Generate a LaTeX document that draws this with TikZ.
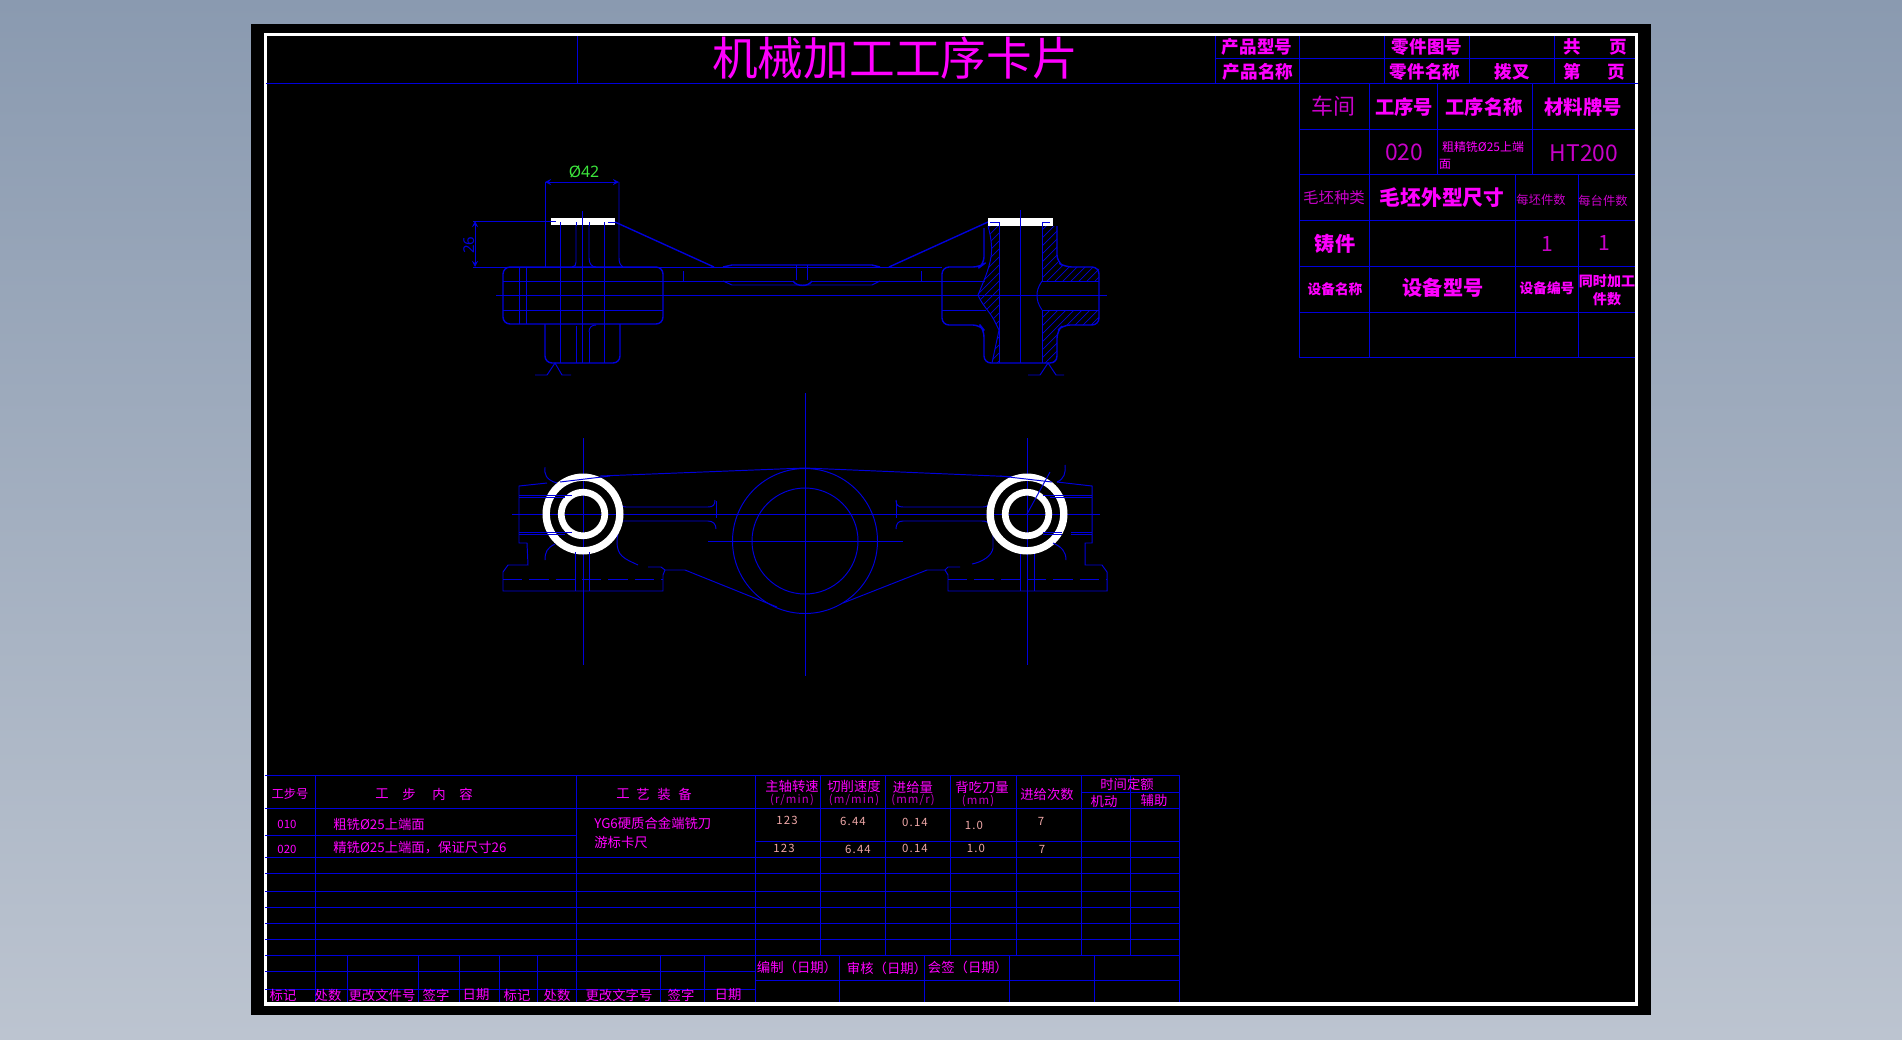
\documentclass[tikz,border=0pt]{standalone}
\usepackage{fontspec}
\setmainfont{Noto Sans}
\newfontfamily\cjk{Noto Sans CJK SC}
\newfontfamily\cjkw[LetterSpace=10]{Noto Sans CJK SC}
\definecolor{cadblue}{HTML}{0000DC}
\definecolor{cadmag}{HTML}{FF00FF}
\definecolor{caddim}{HTML}{C800C8}
\definecolor{cadpink}{HTML}{F0A8A8}
\definecolor{cadgreen}{HTML}{3CE63C}
\definecolor{skytop}{HTML}{8A9AB0}
\definecolor{skybot}{HTML}{BCC4D0}
\newcommand{\fs}[1]{\fontsize{#1}{#1}\selectfont}
\tikzset{
  line/.style={cadblue, line width=0.55pt},
  thickline/.style={cadblue, line width=0.8pt},
  hatch/.style={cadblue, line width=0.4pt},
  ring/.style={white, line width=4.1pt},
  dashline/.style={cadblue, line width=0.55pt, dash pattern=on 11pt off 4pt},
  lbl/.style={text=cadmag, inner sep=0pt, font=\cjk\fs{7.6}},
  lblb/.style={text=cadmag, inner sep=0pt, font=\cjk\bfseries\fs{11}},
  lbls/.style={text=caddim, inner sep=0pt, font=\cjk\fs{7}},
  unit/.style={text=caddim, inner sep=0pt, font=\cjkw\fs{6.5}},
  val/.style={text=cadpink, inner sep=0pt, font=\cjkw\fs{6.5}}
}
\begin{document}
\begin{tikzpicture}[x=0.02cm, y=-0.02cm]
\useasboundingbox (0,0) rectangle (1902,1039);

% Nen va khung
\shade[top color=skytop, bottom color=skybot] (0,0) rectangle (1902,1039);
\fill[black] (251,24) rectangle (1651,1015);
\draw[white, line width=2pt] (265.5,34.5) rectangle (1636.5,1004);

% Khung tieu de
\draw[line] (266,83) -- (1638,83);
\draw[line] (577,36) -- (577,83);
\draw[line] (1215,58) -- (1635,58);
\foreach \x in {1215,1299,1384,1469,1554} \draw[line] (\x,36) -- (\x,83);

% Bang ben phai
\foreach \y in {129,174,220,266,312,357} \draw[line] (1299,\y) -- (1635,\y);
\draw[line] (1299,83) -- (1299,357);
\draw[line] (1369,83) -- (1369,357);
\draw[line] (1437,83) -- (1437,174);
\draw[line] (1532,83) -- (1532,174);
\draw[line] (1515,174) -- (1515,357);
\draw[line] (1578,174) -- (1578,357);

% Bang duoi
\foreach \y in {775,808,857,873,891,907,923,939,955} \draw[line] (265,\y) -- (1179,\y);
\draw[line] (265,835) -- (576,835);
\draw[line] (755,841) -- (1179,841);
\draw[line] (1081,792) -- (1179,792);
\draw[line] (265,971) -- (755,971);
\draw[line] (265,989) -- (755,989);
\draw[line] (755,980) -- (1179,980);
\foreach \x in {315,576,755} \draw[line] (\x,775) -- (\x,1002);
\foreach \x in {820,885,950,1016,1081,1130} \draw[line] (\x,775) -- (\x,955);
\draw[line] (1179,775) -- (1179,1002);
\foreach \x in {347,418,459,499,537,660,704,839,924,1009,1094} \draw[line] (\x,955) -- (\x,1002);

% Hinh chieu dung - tam ben trai
\draw[thickline, rounded corners=4pt] (503,267) rectangle (663,324);
\draw[line] (519.5,267) -- (519.5,324);
\draw[line] (526,267) -- (526,324);
\draw[line] (503,281) -- (723,281);
\draw[line] (503,310) -- (663,310);
\draw[line] (545,182) -- (545,267);
\draw[line] (619,182) -- (619,258) .. controls (619,262) and (620,265) .. (623,267);
\draw[line] (560,222) -- (560,363);
\draw[line] (604,222) -- (604,363);
\draw[line] (582,211) -- (582,363);
\draw[line] (576,222) -- (576,262) .. controls (576,265) and (575,267) .. (572,267);
\draw[line] (589,222) -- (589,258) .. controls (589,264) and (592,267) .. (596,267);
\draw[line] (576,326) -- (576,363);
\draw[line] (589,332) .. controls (589,327) and (592,325) .. (596,325);
\draw[line] (589,332) -- (589,363);
\draw[thickline, rounded corners=4pt] (545,324) -- (545,363) -- (620,363) -- (620,324);
\draw[line] (535,375) -- (547,375) -- (555,363) -- (562,375) -- (571,375);

% Hinh chieu dung - gan giua
\draw[line] (473,267) -- (942,267);
\draw[line] (496,295) -- (1107,295);
\draw[thickline] (615,222) -- (714,267);
\draw[thickline] (889,267) -- (988,222);
\draw[thickline] (723,267) -- (732,265) -- (872,265) -- (880,267);
\draw[line] (723,281) -- (732,285) -- (872,285) -- (880,281);
\draw[line] (723,281) -- (793,281);
\draw[line] (812,281) -- (985,281);
\draw[line] (796,265) -- (796,280);
\draw[line] (807,265) -- (807,280);
\draw[thickline] (793,281) .. controls (797,287) and (808,287) .. (812,281);
\draw[line] (683,271) -- (683,281);
\draw[line] (921,271) -- (921,281);

% Hinh chieu dung - tam ben phai
\begin{scope}
\clip (988,226) .. controls (992,240) and (992,250) .. (991,257) .. controls (989,270) and (982,285) .. (978,295) .. controls (982,305) and (990,312) .. (994,320) -- (999,330) -- (992,363) -- (999,363) -- (999,226) -- cycle;
\foreach \i in {0,8,...,248} \draw[hatch] (820+\i,380) -- (1020+\i,180);
\end{scope}
\begin{scope}
\clip (1042,226) -- (1057,226) -- (1057,258) .. controls (1057,263) and (1060,267) .. (1065,267) -- (1099,267) -- (1099,281) -- (1042,281) -- cycle;
\foreach \i in {0,8,...,248} \draw[hatch] (820+\i,380) -- (1020+\i,180);
\end{scope}
\begin{scope}
\clip (1042,310) -- (1099,310) -- (1099,325) -- (1063,325) -- (1057,331) -- (1057,363) -- (1042,363) -- cycle;
\foreach \i in {0,8,...,248} \draw[hatch] (820+\i,380) -- (1020+\i,180);
\end{scope}
\draw[thickline, rounded corners=4pt] (984,228) -- (984,264) -- (980,267) -- (942,267) -- (942,325) -- (980,325) -- (984,330) -- (984,363) -- (1057,363) -- (1057,331) -- (1063,325) -- (1099,325) -- (1099,267) -- (1065,267) -- (1057,262) -- (1057,226);
\draw[line] (988,226) .. controls (992,240) and (992,250) .. (991,257) .. controls (989,270) and (982,285) .. (978,295) .. controls (982,305) and (990,312) .. (994,320) -- (999,330) -- (992,363);
\draw[line] (999,222) -- (999,363);
\draw[line] (1042,222) -- (1042,281);
\draw[line] (1042,281) .. controls (1038,287) and (1037,291) .. (1037,295) .. controls (1037,300) and (1038,304) .. (1042,310);
\draw[line] (1042,310) -- (1042,363);
\draw[line] (1020,210) -- (1020,363);
\draw[line] (1042,281) -- (1099,281);
\draw[line] (1042,310) -- (1099,310);
\draw[line] (942,310) -- (986,310);
\draw[line] (1028,375) -- (1040,375) -- (1048,363) -- (1056,375) -- (1064,375);

% Mat gia cong mau trang
\fill[white] (551,218) rectangle (615,225);
\fill[white] (988,218) rectangle (1053,226);
\draw[line] (582,211) -- (582,225);
\draw[line] (1020,210) -- (1020,226);
\foreach \x in {560,576,589,604,999,1042} \draw[line] (\x,222) -- (\x,226);
\draw[line] (608,222) -- (615,222);
\draw[line] (990,222) -- (999,222);
\draw[line] (1042,222) -- (1050,222);

% Kich thuoc
\draw[line,<->,>=stealth] (545,182) -- (619,182);
\draw[line] (473,221) -- (556,221);
\draw[line,<->,>=stealth] (475,221) -- (475,267);
\node (phi42) at (584,172) [text=cadgreen, inner sep=0pt, font=\fs{9}] {Ø42};
\node (dim26) at (469,245) [rotate=90, text=cadblue, inner sep=0pt, font=\fs{8.5}] {26};

% Hinh chieu bang - duong tam
\draw[line] (512,514) -- (1100,514);
\draw[line] (708,541) -- (903,541);
\draw[line] (805,393) -- (805,676);
\draw[line] (583,438) -- (583,665);
\draw[line] (1027,438) -- (1027,665);

% Vong tron giua
\draw[line] (805,541) circle (72.5);
\draw[line] (805,541) circle (53);

% Duong bao hinh chieu bang
\draw[line] (600,476) -- (805,468) -- (1020,477);
\draw[line] (547,483) -- (519,486) -- (519,543) -- (527,543) -- (528,565) -- (508,565) -- (503,572) -- (503,591) -- (663,591) -- (663,575) -- (665,570) -- (685,570) -- (777,607);
\draw[line] (1057,482) -- (1092,486) -- (1092,543) -- (1085,543) -- (1085,565) -- (1102,565) -- (1107,572) -- (1107,591) -- (948,591) -- (948,575) -- (945,570) -- (927,570) -- (843,603);
\draw[dashline] (503,579) -- (663,579);
\draw[dashline] (948,579) -- (1107,579);
\draw[line] (575,553) -- (575,591);
\draw[line] (589,553) -- (589,591);
\draw[line] (1020,553) -- (1020,591);
\draw[line] (1034,553) -- (1034,591);

% Canh tay
\draw[line] (617,500) .. controls (620,505) and (622,507) .. (626,507) -- (708,507) .. controls (713,507) and (715,505) .. (715,500);
\draw[line] (622,521) .. controls (625,521) and (627,521) .. (630,521) -- (708,521) .. controls (713,521) and (716,524) .. (716,529);
\draw[line] (716,501) -- (716,518);
\draw[line] (992,500) .. controls (989,505) and (987,507) .. (983,507) -- (903,507) .. controls (898,507) and (896,505) .. (896,500);
\draw[line] (990,525) .. controls (988,522) and (986,521) .. (982,521) -- (903,521) .. controls (898,521) and (896,524) .. (896,529);
\draw[line] (896,501) -- (896,518);
\draw[line] (621,524) .. controls (616,535) and (615,550) .. (622,556) .. controls (626,560) and (632,562) .. (638,565);
\draw[line] (648,567) -- (661,567) -- (665,570);
\draw[line] (993,528) -- (993,548) .. controls (992,556) and (982,562) .. (972,564);
\draw[line] (960,567) -- (948,567) -- (945,570);

% Vong trang
\draw[ring, line width=4.2pt] (583,514) circle (36.8);
\draw[ring, line width=3.8pt] (583,514) circle (21.8);
\draw[ring, line width=4.2pt] (1027,514) circle (36.8);
\draw[ring, line width=3.8pt] (1027,514) circle (21.8);

% Chi tiet de len vong trang
\draw[line] (519,495) -- (572,495);
\draw[line] (519,497.5) -- (565,497.5);
\draw[line] (519,532) -- (572,532);
\draw[line] (519,534.5) -- (565,534.5);
\draw[line] (1043,495) -- (1092,495);
\draw[line] (1050,497.5) -- (1092,497.5);
\draw[line] (1043,532) -- (1062,532);
\draw[line] (1071,532) -- (1092,532);
\draw[line] (1043,534.5) -- (1062,534.5);
\draw[line] (1071,534.5) -- (1092,534.5);
\draw[line] (545,467) .. controls (544,474) and (546,480) .. (557,483);
\draw[line] (545,560) .. controls (545,552) and (547,548) .. (555,544);
\draw[line] (1065,465) .. controls (1066,473) and (1064,479) .. (1057,482);
\draw[line] (1066,560) .. controls (1066,552) and (1062,547) .. (1053,543);
\draw[line] (560,482) -- (610,476);
\draw[line] (1000,476) -- (1052,482);
\draw[line] (1027,514) -- (1050,472);
\draw[line] (575,552) -- (575,558);
\draw[line] (589,552) -- (589,558);

% Chu trong khung tieu de
\node (title) at (895,58) [text=cadmag, inner sep=0pt, font=\cjk\fs{26}] {机械加工工序卡片};
\node (pxh) at (1257,47) [lblb, font=\cjk\bfseries\fs{10}] {产品型号};
\node (pmc) at (1258,72) [lblb, font=\cjk\bfseries\fs{10}] {产品名称};
\node (ljth) at (1427,47) [lblb, font=\cjk\bfseries\fs{10}] {零件图号};
\node (ljmc) at (1425,72) [lblb, font=\cjk\bfseries\fs{10}] {零件名称};
\node (bacha) at (1512,72) [lblb, font=\cjk\bfseries\fs{10}] {拨叉};
\node (gong) at (1572,47) [lblb, font=\cjk\bfseries\fs{10}] {共};
\node (gye) at (1618,47) [lblb, font=\cjk\bfseries\fs{10}] {页};
\node (di) at (1572,72) [lblb, font=\cjk\bfseries\fs{10}] {第};
\node (dye) at (1616,72) [lblb, font=\cjk\bfseries\fs{10}] {页};

% Chu trong bang ben phai
\node (chejian) at (1333,106) [lbls, font=\cjk\fs{12.5}] {车间};
\node (gxh) at (1404,107) [lblb] {工序号};
\node (gxmc) at (1484,107) [lblb] {工序名称};
\node (clph) at (1583,107) [lblb] {材料牌号};
\node (gx020) at (1404,152) [lbls, font=\cjk\fs{13}] {020};
\node (gxnr) at (1483,147) [lbl, font=\cjk\fs{6.8}] {粗精铣Ø25上端};
\node (gxnrb) at (1445,164) [lbl, font=\cjk\fs{6.8}] {面};
\node (ht200) at (1584,153) [lbls, font=\cjk\fs{13}] {HT200};
\node (mpzl) at (1334,198) [lbls, font=\cjk\fs{8.8}] {毛坯种类};
\node (mpcc) at (1442,198) [lblb, font=\cjk\bfseries\fs{11.8}] {毛坯外型尺寸};
\node (mpjs) at (1541,200) [lbls] {每坯件数};
\node (mtjs) at (1603,201) [lbls] {每台件数};
\node (zhujian) at (1335,244) [lblb, font=\cjk\bfseries\fs{11.5}] {铸件};
\node (one) at (1547,244) [lbls, font=\cjk\fs{12}] {1};
\node (oneb) at (1604,243) [lbls, font=\cjk\fs{12}] {1};
\node (sbmc) at (1335,289) [lblb, font=\cjk\bfseries\fs{7.8}] {设备名称};
\node (sbxh) at (1443,288) [lblb, font=\cjk\bfseries\fs{11.5}] {设备型号};
\node (sbbh) at (1547,288) [lblb, font=\cjk\bfseries\fs{7.8}] {设备编号};
\node (tsjg) at (1607,281) [lblb, font=\cjk\bfseries\fs{8}] {同时加工};
\node (jshu) at (1607,299) [lblb, font=\cjk\bfseries\fs{8}] {件数};

% Chu trong bang duoi
\node (gbh) at (290,794) [lbl, font=\cjk\fs{7}] {工步号};
\node (gbnra) at (382,794) [lbl] {工};
\node (gbnrb) at (409,794) [lbl] {步};
\node (gbnrc) at (439,794) [lbl] {内};
\node (gbnrd) at (466,794) [lbl] {容};
\node (gyza) at (623,794) [lbl] {工};
\node (gyzb) at (643,794) [lbl] {艺};
\node (gyzc) at (664,794) [lbl] {装};
\node (gyzd) at (685,794) [lbl] {备};
\node (bh010) at (287,824) [lbl, font=\cjk\fs{6.5}] {010};
\node (bh020) at (287,849) [lbl, font=\cjk\fs{6.5}] {020};
\node (bna) at (333,824) [lbl, anchor=west] {粗铣Ø25上端面};
\node (bnb) at (333,848) [lbl, anchor=west] {精铣Ø25上端面，保证尺寸26};
\node (zba) at (594,823) [lbl, anchor=west] {YG6硬质合金端铣刀};
\node (zbb) at (594,842) [lbl, anchor=west] {游标卡尺};
\node (bja) at (283,995) [lbl] {标记};
\node (csa) at (328,995) [lbl] {处数};
\node (ggja) at (382,995) [lbl] {更改文件号};
\node (qza) at (436,995) [lbl] {签字};
\node (rqa) at (476,995) [lbl] {日期};
\node (bjb) at (517,995) [lbl] {标记};
\node (csb) at (557,995) [lbl] {处数};
\node (ggjb) at (619,995) [lbl] {更改文字号};
\node (qzb) at (681,995) [lbl] {签字};
\node (rqb) at (728,995) [lbl] {日期};
\node (zzzs) at (792,786) [lbl] {主轴转速};
\node (zzdw) at (792,800) [unit] {(r/min)};
\node (qxsd) at (854,786) [lbl] {切削速度};
\node (qxdw) at (854,800) [unit] {(m/min)};
\node (jjl) at (913,787) [lbl] {进给量};
\node (jjdw) at (913,800) [unit] {(mm/r)};
\node (bcd) at (982,787) [lbl] {背吃刀量};
\node (bcdw) at (978,801) [unit] {(mm)};
\node (jjcs) at (1047,794) [lbl] {进给次数};
\node (sjde) at (1127,784) [lbl] {时间定额};
\node (jid) at (1104,801) [lbl] {机动};
\node (fuz) at (1154,800) [lbl] {辅助};
\node (nza) at (787,820) [val] {123};
\node (vca) at (853,821) [val] {6.44};
\node (fza) at (915,822) [val] {0.14};
\node (apa) at (974,825) [val] {1.0};
\node (nca) at (1041,821) [val] {7};
\node (nzb) at (784,848) [val] {123};
\node (vcb) at (858,849) [val] {6.44};
\node (fzb) at (915,848) [val] {0.14};
\node (apb) at (976,848) [val] {1.0};
\node (ncb) at (1042,849) [val] {7};
\node (bzrq) at (797,967) [lbl] {编制（日期）};
\node (shrq) at (887,968) [lbl] {审核（日期）};
\node (hqrq) at (968,967) [lbl] {会签（日期）};
\end{tikzpicture}
\end{document}
